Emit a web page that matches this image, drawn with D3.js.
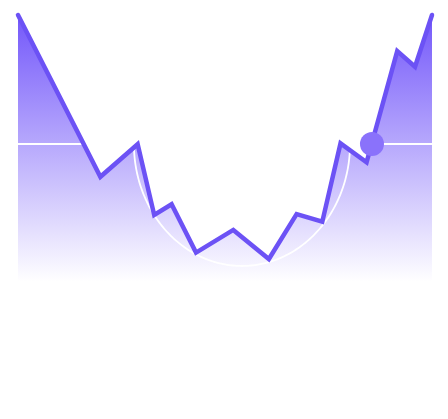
<!DOCTYPE html>
<html>
<head>
<meta charset="utf-8">
<script src="https://cdn.jsdelivr.net/npm/d3@7"></script>
<style>
  html, body { margin: 0; padding: 0; background: #fff; }
  svg { display: block; }
</style>
</head>
<body>
<div id="chart"></div>
<script>
// series (x and y both on a 0-100 scale)
const xs = [0, 19.9, 28.9, 32.9, 37.1, 43.0, 52.0, 60.6, 67.3, 73.5, 77.9, 84.2, 91.6, 95.9, 100];
const ys = [100, 39.4, 51.6, 25.1, 29.1, 11.0, 19.5, 8.6, 25.4, 22.6, 51.9, 44.8, 86.5, 80.6, 100];

// reference level, marker and half-ellipse guide
const refLevel = [51.7];
const marker = [{ x: 85.5, y: 51.7 }];
const guide = [{ cx: 54.1, cy: 51.7, rx: 26.1, ry: 45.7 }];

const W = 448, H = 419;
const x = d3.scaleLinear().domain([0, 100]).range([18, 432]);
const y = d3.scaleLinear().domain([0, 100]).range([282, 15]);

const data = xs.map((v, i) => ({ x: v, y: ys[i] }));

const svg = d3.select('#chart').append('svg')
  .attr('width', W).attr('height', H);

const defs = svg.append('defs');
const grad = defs.append('linearGradient')
  .attr('id', 'fill').attr('gradientUnits', 'userSpaceOnUse')
  .attr('x1', 0).attr('x2', 0).attr('y1', y(100)).attr('y2', y(0));
grad.append('stop').attr('offset', '0%').attr('stop-color', '#7357fa').attr('stop-opacity', 1);
grad.append('stop').attr('offset', '100%').attr('stop-color', '#7357fa').attr('stop-opacity', 0);

svg.append('path').datum(data)
  .attr('d', d3.area().x(d => x(d.x)).y0(y(0)).y1(d => y(d.y)))
  .attr('fill', 'url(#fill)');

svg.selectAll('.ref').data(refLevel).enter().append('line')
  .attr('x1', x(0)).attr('x2', x(100))
  .attr('y1', d => y(d)).attr('y2', d => y(d))
  .attr('stroke', '#fff').attr('stroke-width', 2);

// lower half of an ellipse in data space
svg.selectAll('.guide').data(guide).enter().append('path')
  .attr('d', g => d3.line().x(d => x(d[0])).y(d => y(d[1]))(
    d3.range(0, 181).map(a => {
      const t = a * Math.PI / 180;
      return [g.cx - g.rx * Math.cos(t), g.cy - g.ry * Math.sin(t)];
    })))
  .attr('fill', 'none').attr('stroke', '#fff').attr('stroke-width', 1.8);

svg.append('path').datum(data)
  .attr('d', d3.line().x(d => x(d.x)).y(d => y(d.y)))
  .attr('fill', 'none').attr('stroke', '#6c52f5')
  .attr('stroke-width', 4.5).attr('stroke-linejoin', 'miter').attr('stroke-linecap', 'round');

svg.selectAll('.dot').data(marker).enter().append('circle')
  .attr('cx', d => x(d.x)).attr('cy', d => y(d.y)).attr('r', 12)
  .attr('fill', '#8a72fb');
</script>
</body>
</html>
